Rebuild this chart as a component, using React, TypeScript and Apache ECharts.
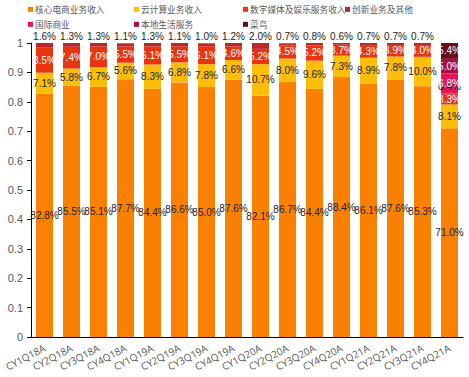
import React, { useEffect, useRef } from "react";
import * as echarts from "echarts";

const categories = [
  "CY1Q18A", "CY2Q18A", "CY3Q18A", "CY4Q18A",
  "CY1Q19A", "CY2Q19A", "CY3Q19A", "CY4Q19A",
  "CY1Q20A", "CY2Q20A", "CY3Q20A", "CY4Q20A",
  "CY1Q21A", "CY2Q21A", "CY3Q21A", "CY4Q21A",
];

const coreCommerce = [0.828, 0.855, 0.851, 0.877, 0.844, 0.866, 0.85, 0.876, 0.821, 0.867, 0.844, 0.884, 0.861, 0.876, 0.853, 0.71];
const cloud = [0.071, 0.058, 0.067, 0.056, 0.083, 0.068, 0.078, 0.066, 0.107, 0.08, 0.096, 0.073, 0.089, 0.078, 0.1, 0.081];
const digitalMedia = [0.085, 0.074, 0.07, 0.055, 0.061, 0.055, 0.061, 0.046, 0.052, 0.045, 0.052, 0.037, 0.043, 0.039, 0.04, 0.033];
const innovation = [0.016, 0.013, 0.013, 0.011, 0.013, 0.011, 0.01, 0.012, 0.02, 0.007, 0.008, 0.006, 0.007, 0.007, 0.007, 0.004];
const international = [0, 0, 0, 0, 0, 0, 0, 0, 0, 0, 0, 0, 0, 0, 0, 0.068];
const localServices = [0, 0, 0, 0, 0, 0, 0, 0, 0, 0, 0, 0, 0, 0, 0, 0.05];
const cainiao = [0, 0, 0, 0, 0, 0, 0, 0, 0, 0, 0, 0, 0, 0, 0, 0.054];

const yTicks = ["0", "0.1", "0.2", "0.3", "0.4", "0.5", "0.6", "0.7", "0.8", "0.9", "1"];

const seriesDefs = [
  { name: "核心电商业务收入", data: coreCommerce, color: "#FA8002", labelColor: "#222", pos: "inside" },
  { name: "云计算业务收入", data: cloud, color: "#FDBE0A", labelColor: "#222", pos: "inside" },
  { name: "数字媒体及娱乐服务收入", data: digitalMedia, color: "#E8340F", labelColor: "#fff", pos: "inside" },
  { name: "创新业务及其他", data: innovation, color: "#B8282C", labelColor: "#222", pos: "top" },
  { name: "国际商业", data: international, color: "#E5145C", labelColor: "#fff", pos: "inside" },
  { name: "本地生活服务", data: localServices, color: "#A8104A", labelColor: "#fff", pos: "inside" },
  { name: "菜鸟", data: cainiao, color: "#6A0A1E", labelColor: "#fff", pos: "inside" },
];

const legendPos = [
  [28, 5], [134, 5], [243, 5], [345, 5],
  [28, 20], [134, 20], [243, 20],
];

export default function App() {
  const ref = useRef<HTMLDivElement>(null);
  useEffect(() => {
    if (!ref.current) return;
    const chart = echarts.init(ref.current, null, { renderer: "svg" });
    chart.setOption({
      animation: false,
      backgroundColor: "#fff",
      legend: seriesDefs.map((s, i) => ({
        data: [s.name],
        left: legendPos[i][0],
        top: legendPos[i][1],
        padding: 0,
        itemWidth: 5,
        itemHeight: 5,
        icon: "rect",
        textStyle: {
          fontSize: 8.7,
          color: "#595959",
          fontFamily: "Noto Sans CJK SC",
          padding: [0, 0, 0, -3],
        },
      })),
      grid: { left: 31, right: 6, top: 43, bottom: 40, containLabel: false },
      xAxis: {
        type: "category",
        data: categories,
        axisLine: { lineStyle: { color: "#000", width: 1 } },
        axisTick: { show: false },
        axisLabel: {
          rotate: 28,
          fontSize: 10,
          color: "#595959",
          fontFamily: "Open Sans",
          margin: 10,
          interval: 0,
        },
      },
      yAxis: {
        type: "value",
        min: 0,
        max: 1,
        interval: 0.1,
        splitLine: { show: false },
        axisLine: { show: true, lineStyle: { color: "#000", width: 1 } },
        axisTick: { show: true, length: 4, lineStyle: { color: "#000" } },
        axisLabel: {
          fontSize: 11,
          color: "#595959",
          fontFamily: "Liberation Sans",
          margin: 8,
          formatter: (v: number) => yTicks[Math.round(v * 10)] ?? String(v),
        },
      },
      series: seriesDefs.map((s) => ({
        name: s.name,
        type: "bar",
        stack: "total",
        barWidth: 17,
        itemStyle: { color: s.color },
        data: s.data.map((v) => (v === 0 ? null : v)),
        label: {
          show: true,
          position: s.pos,
          distance: 2,
          color: s.labelColor,
          fontSize: 10,
          fontFamily: "Liberation Sans",
          formatter: (p: any) => (p.value ? (p.value * 100).toFixed(1) + "%" : ""),
        },
      })),
    });
    return () => chart.dispose();
  }, []);
  return (
    <div
      ref={ref}
      style={{ position: "absolute", left: 0, top: 0, width: 469, height: 377 }}
    />
  );
}
